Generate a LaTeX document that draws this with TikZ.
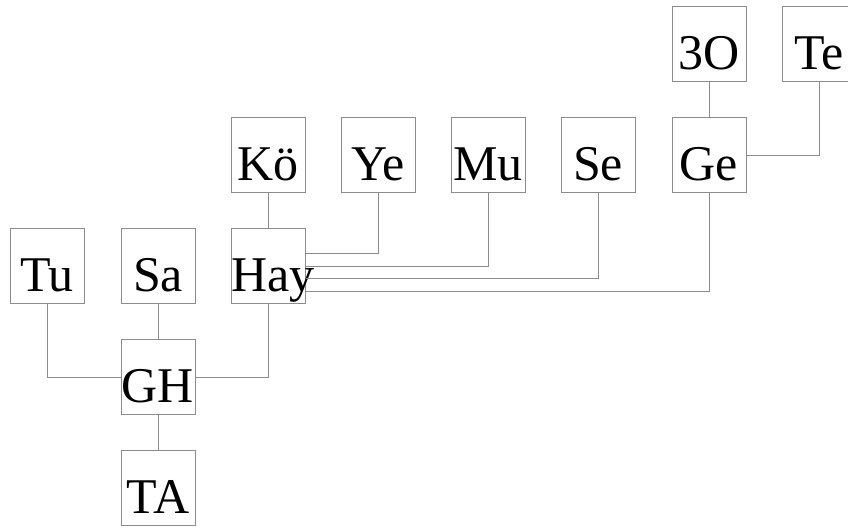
\documentclass[tikz,border=0pt]{standalone}
\usepackage{fontspec}
\setmainfont{Liberation Serif}
\usetikzlibrary{calc}
\tikzset{
  famnode/.style={rectangle, draw=black!45, line width=0.5pt, inner sep=0pt,
                  text width=37pt, align=center, minimum height=37.5pt,
                  text height=25.5pt, text depth=0pt,
                  font=\fontsize{25pt}{29pt}\selectfont},
  link/.style={draw=black!45, line width=0.5pt},
}
\begin{document}
\begin{tikzpicture}[x=0.5pt, y=-0.5pt]
  \clip (0,0) rectangle (848,527);
  % top row
  \node[famnode] (ozz) at (709,44) {3O};
  \node[famnode] (te) at (819,44) {Te};
  % second row
  \node[famnode] (ko) at (268,155) {Kö};
  \node[famnode] (ye) at (378,155) {Ye};
  \node[famnode] (mu) at (488,155) {Mu};
  \node[famnode] (se) at (598,155) {Se};
  \node[famnode] (ge) at (709,155) {Ge};
  % third row
  \node[famnode] (tu) at (47,266) {Tu};
  \node[famnode] (sa) at (158,266) {Sa};
  \node[famnode] (hay) at (268,266) {Hay};
  % bottom
  \node[famnode] (gh) at (158,377) {GH};
  \node[famnode] (ta) at (158,488) {TA};
  % links
  \draw[link] (ozz) -- (ge);
  \draw[link] (ge) -| (te);
  \draw[link] (ko) -- (hay);
  \draw[link] ($(hay.east)+(0,-12.5)$) -| (ye);
  \draw[link] (hay.east) -| (mu);
  \draw[link] ($(hay.east)+(0,12.5)$) -| (se);
  \draw[link] ($(hay.east)+(0,25)$) -| (ge);
  \draw[link] (tu) |- (gh);
  \draw[link] (hay) |- (gh);
  \draw[link] (sa) -- (gh);
  \draw[link] (gh) -- (ta);
\end{tikzpicture}
\end{document}
